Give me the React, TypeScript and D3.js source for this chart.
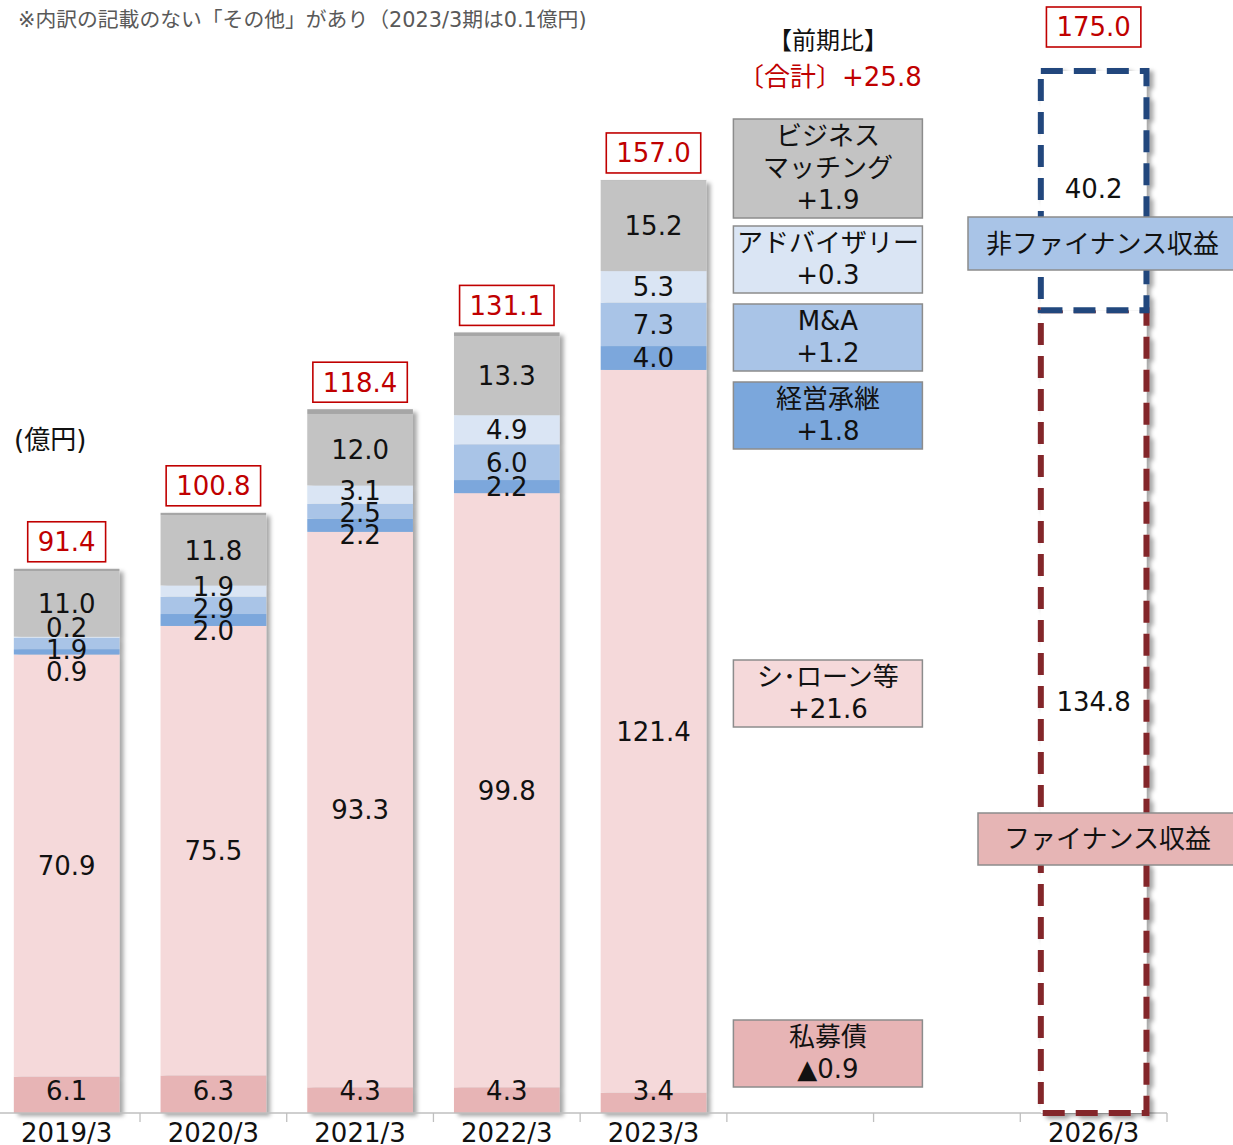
import React, { useEffect, useRef } from 'react'
import * as d3 from 'd3'

const width = 1233
const height = 1145

// categories (x slots: 5 actual years, 2 empty slots used by the legend, target year)
const years = ['2019/3', '2020/3', '2021/3', '2022/3', '2023/3']
const slots = [...years, '_legend', '_gap', '2026/3']

// series values (億円), bottom to top
const shibosai = [6.1, 6.3, 4.3, 4.3, 3.4]
const syndLoan = [70.9, 75.5, 93.3, 99.8, 121.4]
const keiei = [0.9, 2.0, 2.2, 2.2, 4.0]
const ma = [1.9, 2.9, 2.5, 6.0, 7.3]
const advisory = [0.2, 1.9, 3.1, 4.9, 5.3]
const bizMatch = [11.0, 11.8, 12.0, 13.3, 15.2]
const other = [0.4, 0.4, 0.8, 0.6, 0.1]
const totals = [91.4, 100.8, 118.4, 131.1, 157.0]

// 2026/3 target
const targetFinance = 134.8
const targetNonFinance = 40.2
const targetTotal = 175.0

// legend texts (前期比)
const legendNames = ['ビジネス\nマッチング', 'アドバイザリー', 'M&A', '経営承継', 'シ･ローン等', '私募債']
const legendDiffs = ['+1.9', '+0.3', '+1.2', '+1.8', '+21.6', '▲0.9']

const FONT = "'DejaVu Sans', 'Noto Sans CJK JP', sans-serif"
const RED = '#c00000'

export default function App() {
  const ref = useRef<SVGSVGElement>(null)

  useEffect(() => {
    const svg = d3.select(ref.current)
    svg.selectAll('*').remove()
    svg.attr('font-family', FONT)

    const defs = svg.append('defs')
    const f = defs.append('filter').attr('id', 'shadow')
      .attr('x', '-10%').attr('y', '-10%').attr('width', '130%').attr('height', '130%')
    f.append('feDropShadow').attr('dx', 4).attr('dy', 3)
      .attr('stdDeviation', 2.2).attr('flood-color', '#000').attr('flood-opacity', 0.35)

    const x = d3.scaleBand().domain(slots).range([-6.7, 1167]).paddingInner(0.28).paddingOuter(0.14)
    const y = d3.scaleLinear().domain([0, targetTotal]).range([1113, 71])
    const bw = x.bandwidth()

    const series = [
      { key: '私募債', values: shibosai, color: '#e7b4b5' },
      { key: 'シ・ローン等', values: syndLoan, color: '#f5d9da' },
      { key: '経営承継', values: keiei, color: '#7ba7dc' },
      { key: 'M&A', values: ma, color: '#a9c4e7' },
      { key: 'アドバイザリー', values: advisory, color: '#dae5f4' },
      { key: 'ビジネスマッチング', values: bizMatch, color: '#c3c3c3' },
      { key: 'その他', values: other, color: '#a6a6a6' },
    ]

    const table = years.map((yr, i) => {
      const row: any = { year: yr }
      series.forEach(s => { row[s.key] = s.values[i] })
      return row
    })
    const stacked = d3.stack().keys(series.map(s => s.key))(table)

    // bars
    const barG = svg.append('g')
    years.forEach((yr, i) => {
      const g = barG.append('g').attr('filter', 'url(#shadow)')
      stacked.forEach((layer, si) => {
        const [a, b] = layer[i]
        g.append('rect')
          .attr('x', x(yr)!)
          .attr('width', bw)
          .attr('y', y(b))
          .attr('height', y(a) - y(b))
          .attr('fill', series[si].color)
      })
    })

    // axis
    const axisY = y(0)
    svg.append('line').attr('x1', 0).attr('x2', 1167).attr('y1', axisY).attr('y2', axisY)
      .attr('stroke', '#bfbfbf').attr('stroke-width', 1.3)
    const step = x.step()
    slots.forEach(s => {
      const right = x(s)! + bw + (step - bw) / 2
      svg.append('line').attr('x1', right).attr('x2', right).attr('y1', axisY).attr('y2', axisY + 9)
        .attr('stroke', '#bfbfbf').attr('stroke-width', 1.3)
      if (!s.startsWith('_')) {
        svg.append('text').attr('x', x(s)! + bw / 2).attr('y', 1142)
          .attr('text-anchor', 'middle').attr('font-size', 26).attr('fill', '#111').text(s)
      }
    })

    // value labels (small segments relaxed apart, kept inside plot)
    const labelG = svg.append('g').attr('font-size', 26).attr('fill', '#111').attr('text-anchor', 'middle')
    years.forEach((yr, i) => {
      const labs = stacked.slice(0, 6).map((layer, si) => {
        const [a, b] = layer[i]
        return { v: series[si].values[i], c: (y(a) + y(b)) / 2 }
      })
      const gap = 22
      for (let it = 0; it < 80; it++) {
        for (let k = 2; k < labs.length; k++) {
          const lo = labs[k - 1], hi = labs[k]
          const d = lo.c - hi.c
          if (d < gap) {
            lo.c += (gap - d) * 0.65
            hi.c -= (gap - d) * 0.35
          }
        }
      }
      labs.forEach(l => {
        const c = Math.min(l.c, axisY - 22)
        labelG.append('text').attr('x', x(yr)! + bw / 2).attr('y', c)
          .attr('dy', '0.36em').text(d3.format('.1f')(l.v))
      })
    })

    // total boxes
    const totalBox = (cx: number, bottom: number, v: number) => {
      const g = svg.append('g')
      const t = g.append('text').attr('x', cx).attr('y', bottom - 20).attr('dy', '0.36em')
        .attr('text-anchor', 'middle').attr('font-size', 26).attr('fill', RED).text(d3.format('.1f')(v))
      const bb = (t.node() as SVGTextElement).getBBox()
      g.insert('rect', 'text').attr('x', cx - bb.width / 2 - 10).attr('width', bb.width + 20)
        .attr('y', bottom - 40).attr('height', 40)
        .attr('fill', '#fff').attr('stroke', RED).attr('stroke-width', 1.6)
    }
    years.forEach((yr, i) => {
      const top = y(d3.sum(series, s => s.values[i]))
      totalBox(x(yr)! + bw / 2, top - 7, totals[i])
    })

    // 2026/3 target bar
    const tx = x('2026/3')!
    const tg = svg.append('g').attr('filter', 'url(#shadow)')
    tg.append('rect').attr('x', tx).attr('width', bw)
      .attr('y', y(targetFinance)).attr('height', y(0) - y(targetFinance))
      .attr('fill', '#fff').attr('stroke', '#83262a').attr('stroke-width', 6)
      .attr('stroke-dasharray', '22 11')
    tg.append('rect').attr('x', tx).attr('width', bw)
      .attr('y', y(targetFinance + targetNonFinance)).attr('height', y(targetFinance) - y(targetFinance + targetNonFinance))
      .attr('fill', '#fff').attr('stroke', '#20477d').attr('stroke-width', 6)
      .attr('stroke-dasharray', '22 11')
    svg.append('text').attr('x', tx + bw / 2).attr('y', (y(targetFinance) + y(targetFinance + targetNonFinance)) / 2 - 2)
      .attr('dy', '0.36em').attr('text-anchor', 'middle').attr('font-size', 26).attr('fill', '#111')
      .text(d3.format('.1f')(targetNonFinance))
    svg.append('text').attr('x', tx + bw / 2).attr('y', (y(0) + y(targetFinance)) / 2 - 10)
      .attr('dy', '0.36em').attr('text-anchor', 'middle').attr('font-size', 26).attr('fill', '#111')
      .text(d3.format('.1f')(targetFinance))
    totalBox(tx + bw / 2, y(targetTotal) - 24, targetTotal)

    // category boxes on target bar
    const tagBox = (left: number, top: number, h: number, fill: string, label: string) => {
      svg.append('rect').attr('x', left).attr('y', top).attr('width', width - left + 5).attr('height', h)
        .attr('fill', fill).attr('stroke', '#8c8c8c').attr('stroke-width', 1.5)
      svg.append('text').attr('x', left + (width - left) / 2 + 2).attr('y', top + h / 2).attr('dy', '0.36em')
        .attr('text-anchor', 'middle').attr('font-size', 26).attr('fill', '#111').text(label)
    }
    tagBox(968, 217, 53, '#a9c4e7', '非ファイナンス収益')
    tagBox(978, 813, 52, '#e6b5b5', 'ファイナンス収益')

    // legend (前期比)
    const lx = x('_legend')! - 14
    const lw = 189
    const legendTops = [119, 226, 304, 382, 660, 1020]
    const legendColors = ['#c3c3c3', '#dae5f4', '#a9c4e7', '#7ba7dc', '#f5d9da', '#e7b4b5']
    legendNames.forEach((name, i) => {
      const lines = [...name.split('\n'), legendDiffs[i]]
      const h = lines.length * 32 + 3
      svg.append('rect').attr('x', lx).attr('y', legendTops[i]).attr('width', lw).attr('height', h)
        .attr('fill', legendColors[i]).attr('stroke', '#8c8c8c').attr('stroke-width', 1.5)
      lines.forEach((ln, j) => {
        svg.append('text').attr('x', lx + lw / 2).attr('y', legendTops[i] + 17 + j * 32).attr('dy', '0.36em')
          .attr('text-anchor', 'middle').attr('font-size', 26).attr('fill', '#111').text(ln)
      })
    })
    svg.append('text').attr('x', lx + lw / 2).attr('y', 40).attr('dy', '0.36em')
      .attr('text-anchor', 'middle').attr('font-size', 24).attr('fill', '#111').text('【前期比】')
    svg.append('text').attr('x', lx + lw / 2 + 2).attr('y', 77).attr('dy', '0.36em')
      .attr('text-anchor', 'middle').attr('font-size', 26).attr('fill', RED).text('〔合計〕+25.8')

    // notes
    svg.append('text').attr('x', 18).attr('y', 20).attr('dy', '0.36em')
      .attr('font-size', 20.8).attr('fill', '#595959')
      .text('※内訳の記載のない「その他」があり（2023/3期は0.1億円)')
    svg.append('text').attr('x', 14).attr('y', 440).attr('dy', '0.36em')
      .attr('font-size', 26).attr('fill', '#111').text('(億円)')
  }, [])

  return (
    <svg ref={ref} width={width} height={height}
      style={{ position: 'absolute', left: 0, top: 0, display: 'block', background: '#fff' }} />
  )
}
